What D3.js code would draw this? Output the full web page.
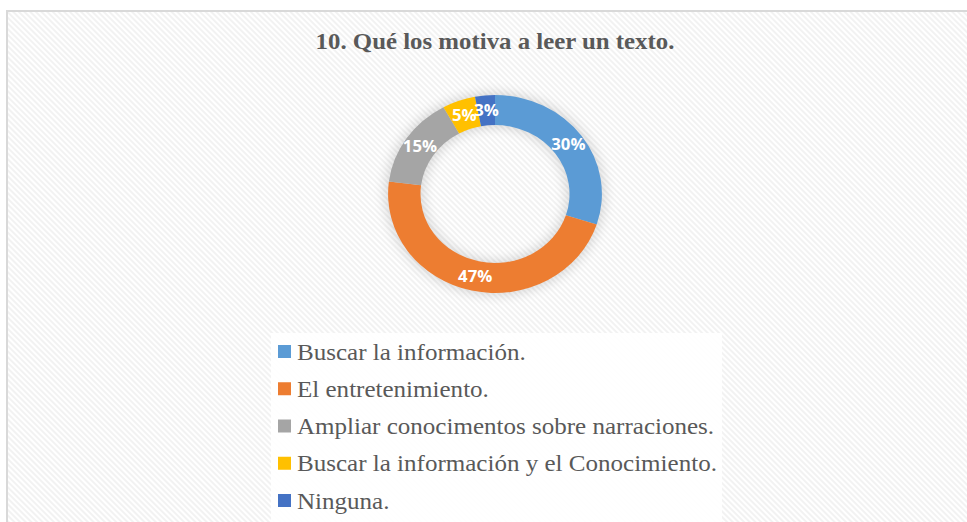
<!DOCTYPE html>
<html>
<head>
<meta charset="utf-8">
<script src="https://cdn.jsdelivr.net/npm/d3@7"></script>
<style>
  body { margin: 0; background: #fff; }
  svg { display: block; }
</style>
</head>
<body>
<svg id="chart" width="967" height="522"></svg>
<script>
// data
var title = "10. Qué los motiva a leer un texto.";
var categories = ["Buscar la información.", "El entretenimiento.",
  "Ampliar conocimentos sobre narraciones.",
  "Buscar la información y el Conocimiento.", "Ninguna."];
var values = [30, 47, 15, 5, 3];
var colors = ["#5B9BD5", "#ED7D31", "#A5A5A5", "#FFC000", "#4472C4"];

var svg = d3.select("#chart");
var W = 967, H = 522;
var sx = 1.08; // the picture is a bit wider than tall

// background pattern
var defs = svg.append("defs");
var pat = defs.append("pattern")
  .attr("id", "hatch")
  .attr("width", 4).attr("height", 4)
  .attr("patternUnits", "userSpaceOnUse")
  .attr("patternTransform", "rotate(-45)");
pat.append("rect").attr("width", 4).attr("height", 4).attr("fill", "#ffffff");
pat.append("rect").attr("width", 2).attr("height", 4).attr("fill", "#f2f2f2");

var shadow = defs.append("filter").attr("id", "shadow")
  .attr("x", "-20%").attr("y", "-20%").attr("width", "140%").attr("height", "140%");
shadow.append("feGaussianBlur").attr("stdDeviation", 6);

svg.append("rect")
  .attr("x", 7).attr("y", 11)
  .attr("width", W + 20).attr("height", H + 20)
  .attr("fill", "url(#hatch)")
  .attr("stroke", "#d9d9d9").attr("stroke-width", 2);

// title
svg.append("g")
  .attr("transform", "translate(495,49) scale(" + sx + ",1)")
  .append("text")
  .attr("text-anchor", "middle")
  .attr("font-family", "'Liberation Serif', 'Times New Roman', serif")
  .attr("font-weight", "bold")
  .attr("font-size", 23)
  .attr("fill", "#595959")
  .text(title);

// donut
var cx = 495, cy = 194;
var outerR = 99, innerR = 69;
var pie = d3.pie().sort(null).value(d => d);
var arcs = pie(values);
var arc = d3.arc().innerRadius(innerR).outerRadius(outerR);
var shadowArc = d3.arc().innerRadius(innerR - 2).outerRadius(outerR + 2);

var donut = svg.append("g")
  .attr("transform", "translate(" + cx + "," + cy + ") scale(" + sx + ",1)");

donut.append("path")
  .attr("d", shadowArc({startAngle: 0, endAngle: 2 * Math.PI}))
  .attr("fill", "#000").attr("opacity", 0.15)
  .attr("filter", "url(#shadow)");

donut.selectAll("path.slice")
  .data(arcs)
  .enter()
  .append("path")
  .attr("class", "slice")
  .attr("d", arc)
  .attr("fill", (d, i) => colors[i]);

svg.append("g").selectAll("g")
  .data(arcs)
  .enter()
  .append("g")
  .attr("transform", d => "translate(" + (cx + arc.centroid(d)[0] * sx) + "," +
    (cy + arc.centroid(d)[1]) + ") scale(" + sx + ",1)")
  .append("text")
  .attr("dy", "0.36em")
  .attr("text-anchor", "middle")
  .attr("font-family", "'Open Sans', 'DejaVu Sans', sans-serif")
  .attr("font-weight", "bold")
  .attr("font-size", 15.5)
  .attr("fill", "#ffffff")
  .text(d => d.data + "%");

// legend
svg.append("rect")
  .attr("x", 271).attr("y", 333)
  .attr("width", 451).attr("height", 200)
  .attr("fill", "#ffffff").attr("opacity", 0.92);

var ly = d3.scalePoint()
  .domain(categories)
  .range([352, 501]);

var legend = svg.append("g").selectAll("g")
  .data(categories)
  .enter()
  .append("g")
  .attr("transform", d => "translate(278," + ly(d) + ")");

legend.append("rect")
  .attr("x", 0).attr("y", -7)
  .attr("width", 13).attr("height", 13)
  .attr("fill", (d, i) => colors[i]);

legend.append("g")
  .attr("transform", "translate(19,7.5) scale(" + sx + ",1)")
  .append("text")
  .attr("font-family", "'Liberation Serif', 'Times New Roman', serif")
  .attr("font-size", 23.2)
  .attr("fill", "#595959")
  .text(d => d);
</script>
</body>
</html>
